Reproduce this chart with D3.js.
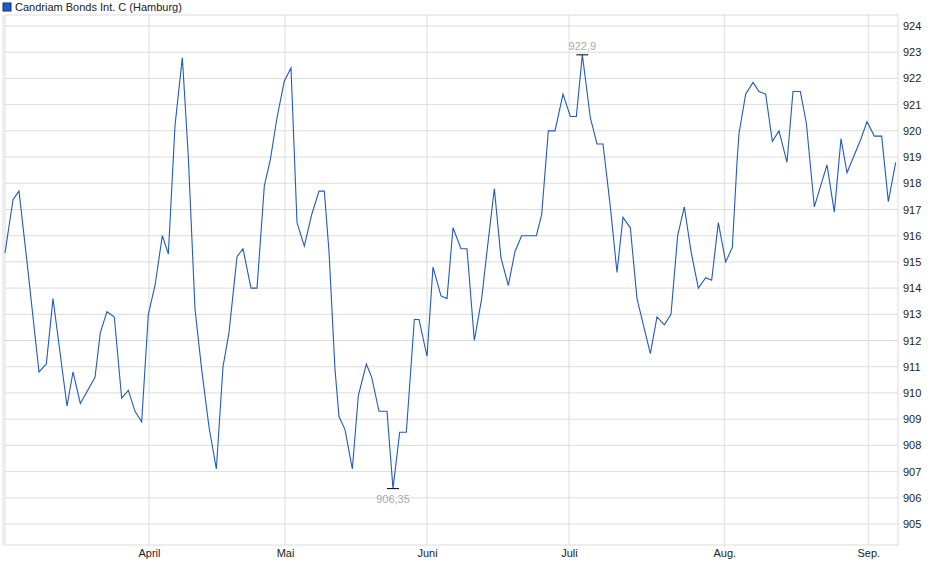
<!DOCTYPE html>
<html><head><meta charset="utf-8">
<script src="https://cdn.jsdelivr.net/npm/d3@7"></script>
<style>body{margin:0;background:#fff}svg{font-family:"Liberation Sans",Arial,sans-serif}</style>
</head><body><svg id="c" width="940" height="579"></svg>
<script>
const seriesName = "Candriam Bonds Int. C (Hamburg)";
const days = [0,1.2,2.1,3.3,5.1,6.2,7.2,9.3,10.2,11.3,13.5,14.3,15.3,16.4,17.5,18.5,19.5,20.5,21.5,22.5,23.6,24.5,25.5,26.6,27.5,28.5,29.5,30.6,31.7,32.7,33.6,34.8,35.7,36.9,37.8,38.9,39.8,40.8,41.9,42.9,43.8,44.9,46.0,47.1,47.9,48.6,49.5,50.1,51.0,52.1,53.0,54.2,55.0,56.1,57.3,58.2,59.2,60.2,61.4,62.1,63.3,64.2,65.4,66.3,67.2,68.4,69.3,70.4,71.5,72.3,73.4,74.4,75.5,76.5,77.5,79.7,80.5,81.5,82.5,83.7,84.8,85.7,86.6,87.3,87.8,88.8,89.7,90.8,91.8,92.7,93.8,94.8,96.8,97.8,98.9,99.9,100.9,101.9,102.9,104.0,105.1,106.0,107.0,108.1,109.1,109.8,110.1,111.1,112.2,113.1,114.1,115.1,116.1,117.3,118.2,119.3,120.2,121.4,123.3,124.4,125.4,126.3,128.4,129.3,130.4,131.5,132.5,133.6];
const values = [915.34,917.37,917.7,915.0,910.8,911.1,913.6,909.5,910.8,909.6,910.6,912.3,913.1,912.9,909.8,910.1,909.3,908.9,913.0,914.1,916.0,915.3,920.2,922.8,919.0,913.2,910.9,908.7,907.1,911.0,912.3,915.2,915.5,914.0,914.0,917.9,918.9,920.5,921.9,922.4,916.5,915.6,916.8,917.7,917.7,915.4,910.9,909.1,908.6,907.1,909.9,911.1,910.6,909.3,909.3,906.35,908.5,908.5,912.8,912.8,911.4,914.8,913.7,913.6,916.3,915.5,915.5,912.0,913.6,915.4,917.8,915.15,914.1,915.4,916.0,916.0,916.8,920.0,920.0,921.4,920.55,920.55,922.9,921.5,920.5,919.5,919.5,917.1,914.6,916.7,916.3,913.6,911.5,912.9,912.6,913.0,916.0,917.1,915.4,914.0,914.4,914.3,916.5,915.0,915.55,918.8,919.9,921.4,921.85,921.5,921.4,919.6,920.0,918.8,921.5,921.5,920.3,917.1,918.7,916.9,919.7,918.4,919.7,920.35,919.8,919.8,917.3,918.8];
const monthLabels = ["April","Mai","Juni","Juli","Aug.","Sep."];
const monthPos = [21.6,42.0,63.3,84.6,107.9,129.5];
const yTicks = [905,906,907,908,909,910,911,912,913,914,915,916,917,918,919,920,921,922,923,924];
const maxLabel = "922,9", minLabel = "906,35";

const svg = d3.select("#c");
const L=5,R=898,T=15,B=545;
const x = d3.scaleLinear().domain([0,133.95]).range([L,R]);
const y = d3.scaleLinear().domain([905,924]).range([524,26]);
const grid = "#dcdcdc";
svg.append("g").selectAll("line").data(yTicks).join("line")
 .attr("x1",L).attr("x2",R).attr("y1",d=>y(d)).attr("y2",d=>y(d)).attr("stroke",grid);
svg.append("g").selectAll("line").data(monthPos).join("line")
 .attr("x1",d=>x(d)).attr("x2",d=>x(d)).attr("y1",T).attr("y2",B).attr("stroke",grid);
svg.append("rect").attr("x",L).attr("y",T).attr("width",R-L).attr("height",B-T).attr("fill","none").attr("stroke",grid);
svg.append("line").attr("x1",3).attr("x2",3).attr("y1",T).attr("y2",B).attr("stroke",grid);
const ya = svg.append("g").attr("transform",`translate(${R},0)`).call(d3.axisRight(y).tickValues(yTicks).tickSize(0).tickPadding(5).tickFormat(d3.format("d")));
ya.select(".domain").remove();
ya.selectAll("text").attr("font-size",11).attr("fill","#222").attr("font-family","Liberation Sans, Arial");
const xa = svg.append("g").attr("transform",`translate(0,${B})`).call(d3.axisBottom(x).tickValues(monthPos).tickSize(0).tickPadding(4).tickFormat((d,i)=>monthLabels[i]));
xa.select(".domain").remove();
xa.selectAll("text").attr("font-size",11).attr("fill","#222").attr("font-family","Liberation Sans, Arial");

const pts = days.map((d,i)=>[d,values[i]]);
svg.append("path").datum(pts).attr("fill","none").attr("stroke","#1f5bc2").attr("stroke-width",1.1)
 .attr("d",d3.line().x(d=>x(d[0])).y(d=>y(d[1])));

const iMax = d3.maxIndex(values), iMin = d3.minIndex(values);
[[iMax,maxLabel,-5],[iMin,minLabel,14]].forEach(([i,t,dy])=>{
  const px=x(days[i]), py=y(values[i]);
  svg.append("line").attr("x1",px-6).attr("x2",px+6).attr("y1",py).attr("y2",py).attr("stroke","#000");
  svg.append("text").attr("x",px).attr("y",py+dy).attr("text-anchor","middle").attr("font-size",11).attr("fill","#aaa").text(t);
});
svg.append("rect").attr("x",3).attr("y",3).attr("width",8).attr("height",8).attr("fill","#1f5bc2").attr("stroke","#0b2f7a");
svg.append("text").attr("x",15).attr("y",11).attr("font-size",11).attr("fill","#222").text(seriesName);
</script></body></html>
